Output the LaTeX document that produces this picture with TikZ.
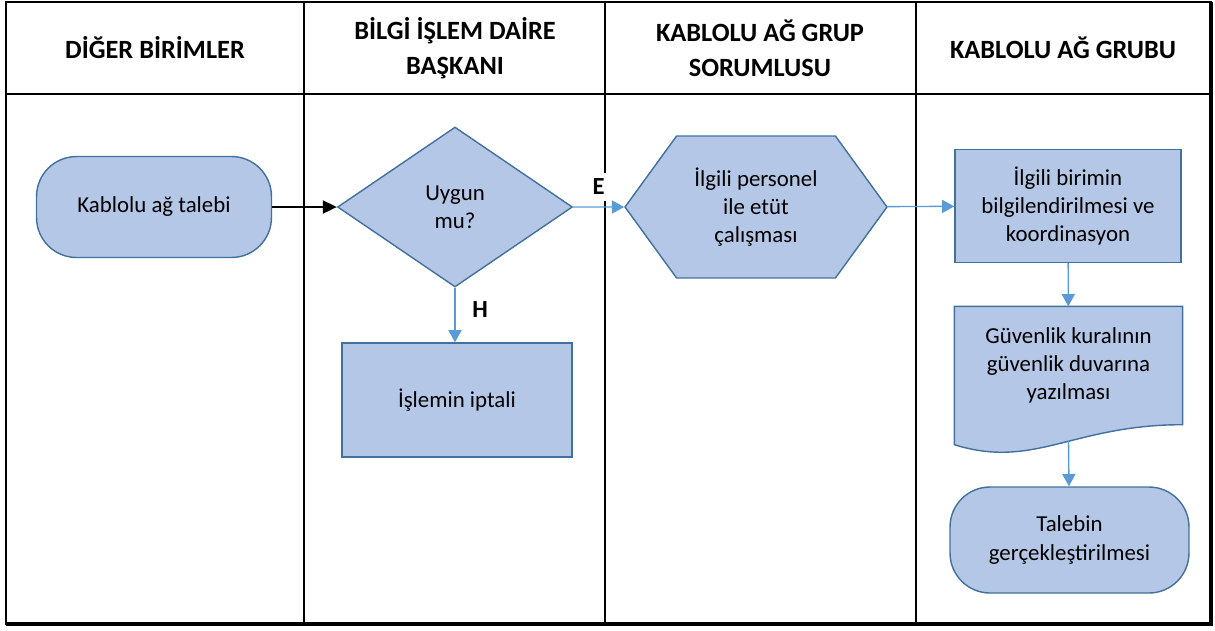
\documentclass[tikz,border=0pt]{standalone}
\usepackage{fontspec}
\setmainfont{Carlito}
\usetikzlibrary{shapes.geometric,shapes.symbols,arrows.meta,backgrounds}
\definecolor{shapefill}{HTML}{B4C7E7}
\definecolor{shapeline}{HTML}{41719C}
\definecolor{flowblue}{HTML}{5B9BD5}
\tikzstyle{box}=[draw=shapeline,fill=shapefill,line width=0.8pt,align=center,font=\fontsize{13}{16}\selectfont,inner sep=2pt]
\tikzstyle{process}=[box,rectangle]
\tikzstyle{terminal}=[box,rectangle,rounded corners=0.8cm]
\tikzstyle{decision}=[box,diamond,aspect=1.47,inner sep=0pt]
\tikzstyle{prep}=[box,signal,signal to=west and east,signal pointer angle=108]
\tikzstyle{flow}=[draw=flowblue,line width=0.8pt,-{Triangle[length=7pt,width=7.5pt]}]
\tikzstyle{answer}=[font=\fontsize{14}{15}\selectfont\bfseries,fill=white,inner xsep=1.5pt,inner ysep=3.5pt]
\tikzstyle{lane title}=[align=center,font=\fontsize{15}{20}\selectfont\bfseries]
\tikzstyle{lane}=[line width=1.2pt]
\begin{document}
\begin{tikzpicture}[x=0.02cm,y=-0.02cm]
  \useasboundingbox (0,0) rectangle (1215,630);
  % First we draw the swimlanes
  \draw[lane] (6,2) rectangle (1211,624);
  \draw[lane,line width=2.2pt] (6,624) -- (1211,624) -- (1211,2);
  \draw[lane] (6,94) -- (1211,94);
  \foreach \x in {304,605,916}
    \draw[lane] (\x,2) -- (\x,624);
  % Lane titles
  \foreach \x/\name/\title in {155/diger/{DİĞER BİRİMLER},455/baskan/{BİLGİ İŞLEM DAİRE\\BAŞKANI},
                               760/sorumlu/{KABLOLU AĞ GRUP\\SORUMLUSU},1063/grup/{KABLOLU AĞ GRUBU}}
    \node[lane title] (\name) at (\x,48) {\title};
  % Then the shapes of the flow
  \node[terminal,minimum width=4.7cm,minimum height=2.02cm] (talep) at (154,207) {Kablolu ağ talebi};
  \node[decision,minimum width=4.7cm,minimum height=3.2cm] (uygun) at (455,207) {Uygun\\mu?};
  \node[process,minimum width=4.6cm,minimum height=2.28cm] (iptal) at (457,400) {İşlemin iptali};
  \node[prep,minimum width=5.24cm,minimum height=2.84cm] (etut) at (756,207) {İlgili personel\\ile etüt\\çalışması};
  \node[process,minimum width=4.52cm,minimum height=2.26cm] (bilgi) at (1068,206) {İlgili birimin\\bilgilendirilmesi ve\\koordinasyon};
  \node[box,draw=none,fill=none,minimum width=4.54cm,minimum height=2.34cm] (kural) at (1068.5,365.5) {Güvenlik kuralının\\güvenlik duvarına\\yazılması};
  \begin{scope}[on background layer]
    % document outline with the wavy bottom
    \filldraw[draw=shapeline,fill=shapefill,line width=0.8pt] (kural.north west) -- (kural.north east) -- (kural.south east)
      .. controls +(-110,0) and +(80,25) .. ([yshift=-0.4cm]kural.south west) -- cycle;
  \end{scope}
  \node[terminal,minimum width=4.78cm,minimum height=2.12cm] (gercek) at (1069.5,540) {Talebin\\gerçekleştirilmesi};
  % Connect the shapes
  \draw[line width=0.9pt,-{Triangle[length=8pt,width=7.5pt]}] (talep) -- (uygun);
  \draw[flow] (uygun) -- node[answer,above=3pt] {E} (etut);
  \draw[flow] (uygun.south) -- node[answer,fill=none,right=8pt,yshift=3pt] {H} (uygun.south |- iptal.north);
  \draw[flow] (etut) -- (bilgi);
  \draw[flow] (bilgi) -- (kural);
  \draw[flow] ([yshift=-0.32cm]kural.south) -- (gercek);
\end{tikzpicture}
\end{document}
